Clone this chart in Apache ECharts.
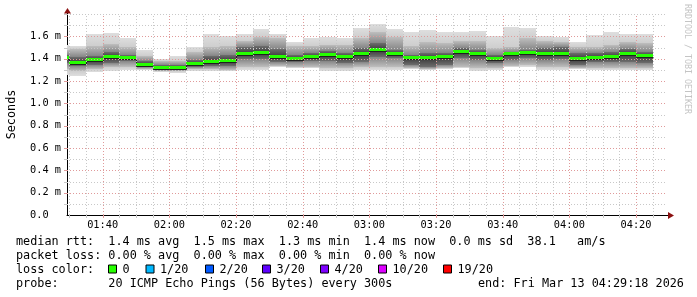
<!DOCTYPE html>
<html><head><meta charset="utf-8">
<script src="https://cdn.jsdelivr.net/npm/echarts@6/dist/echarts.min.js"></script>
<style>html,body{margin:0;padding:0;background:#fff}#c{width:697px;height:297px}</style>
</head><body><div id="c"></div>
<script>
// 5-minute bins (end time of each bin), 20 pings per bin
const binEnd = ['01:30','01:35','01:40','01:45','01:50','01:55','02:00','02:05','02:10','02:15','02:20','02:25',
  '02:30','02:35','02:40','02:45','02:50','02:55','03:00','03:05','03:10','03:15','03:20','03:25',
  '03:30','03:35','03:40','03:45','03:50','03:55','04:00','04:05','04:10','04:15','04:20','04:25'];
// smoke band edges (ms): max ping, outer band edge, core edge, median, core edge, outer band edge, min ping
const hi = [1.520,1.517,1.622,1.631,1.589,1.478,1.400,1.423,1.502,1.622,1.604,1.622,1.664,1.622,1.553,1.583,1.592,1.583,
  1.678,1.711,1.667,1.637,1.658,1.637,1.637,1.649,1.604,1.682,1.678,1.607,1.598,1.553,1.616,1.643,1.625,1.625];
const hiMid = [1.480,1.487,1.517,1.532,1.508,1.427,1.377,1.383,1.458,1.508,1.517,1.562,1.592,1.586,1.517,1.517,1.526,1.523,
  1.583,1.643,1.598,1.514,1.553,1.539,1.562,1.562,1.494,1.508,1.583,1.562,1.553,1.508,1.508,1.523,1.553,1.544];
const hiCore = [1.430,1.416,1.427,1.458,1.436,1.383,1.347,1.347,1.389,1.427,1.436,1.503,1.517,1.487,1.436,1.449,1.467,1.449,
  1.494,1.539,1.478,1.434,1.449,1.449,1.494,1.478,1.434,1.463,1.478,1.494,1.508,1.449,1.449,1.463,1.485,1.463];
const median = [1.404,1.365,1.389,1.419,1.404,1.344,1.314,1.320,1.353,1.374,1.380,1.443,1.449,1.419,1.395,1.413,1.434,1.416,
  1.440,1.478,1.445,1.404,1.404,1.413,1.458,1.445,1.400,1.440,1.449,1.440,1.440,1.395,1.410,1.419,1.440,1.425];
const loCore = [1.360,1.335,1.344,1.362,1.377,1.326,1.302,1.302,1.329,1.338,1.338,1.398,1.398,1.368,1.368,1.377,1.377,1.359,
  1.374,1.418,1.404,1.344,1.329,1.344,1.404,1.389,1.365,1.389,1.404,1.389,1.395,1.344,1.374,1.374,1.374,1.365];
const loMid = [1.310,1.293,1.308,1.323,1.323,1.311,1.290,1.290,1.308,1.308,1.302,1.329,1.329,1.338,1.326,1.326,1.317,1.314,
  1.329,1.329,1.329,1.314,1.305,1.314,1.329,1.314,1.314,1.338,1.344,1.329,1.329,1.314,1.314,1.314,1.314,1.314];
const lo = [1.250,1.248,1.281,1.293,1.299,1.302,1.279,1.275,1.293,1.293,1.288,1.299,1.302,1.329,1.314,1.314,1.293,1.293,
  1.299,1.299,1.299,1.305,1.299,1.305,1.314,1.293,1.299,1.323,1.329,1.299,1.299,1.303,1.299,1.299,1.299,1.299];

const xTickLabels = ['01:40','02:00','02:20','02:40','03:00','03:20','03:40','04:00','04:20'];
const xMinorGrid = ['01:30','01:35','01:45','01:50','01:55','02:05','02:10','02:15','02:25','02:30','02:35','02:45','02:50','02:55',
  '03:05','03:10','03:15','03:25','03:30','03:35','03:45','03:50','03:55','04:05','04:10','04:15','04:25'];
const yTicks = [0.2,0.4,0.6,0.8,1.0,1.2,1.4,1.6];
const yMinorGrid = [0.1,0.3,0.5,0.7,0.9,1.1,1.3,1.5,1.7,1.8];
const timeRange = ['01:29:18','04:29:18'];
const binMinutes = 5;

const lossLabels = ['0','1/20','2/20','3/20','4/20','10/20','19/20'];
const lossColors = ['#26ff00','#00b8ff','#0059ff','#5e00ff','#7e00ff','#dd00ff','#ff0000'];
const legendLines = [
  'median rtt:  1.4 ms avg  1.5 ms max  1.3 ms min  1.4 ms now  0.0 ms sd  38.1   am/s',
  'packet loss: 0.00 % avg  0.00 % max  0.00 % min  0.00 % now',
  'loss color:',
  'probe:       20 ICMP Echo Pings (56 Bytes) every 300s'
];
const endLabel = 'end: Fri Mar 13 04:29:18 2026';

function toMin(s){ const p = s.split(':').map(Number); return p[0]*60 + p[1] + (p[2]||0)/60; }
function fmt(v){ const h = Math.floor(v/60), m = Math.round(v - h*60); return String(h).padStart(2,'0')+':'+String(m).padStart(2,'0'); }

const MONO = '"DejaVu Sans Mono", monospace';
const G = echarts.graphic;
const smokeFills = [
  new G.LinearGradient(0,0,0,1,[{offset:0,color:'#cecece'},{offset:1,color:'#dedede'}]),
  new G.LinearGradient(0,0,0,1,[{offset:0,color:'#858585'},{offset:1,color:'#bebebe'}]),
  new G.LinearGradient(0,0,0,1,[{offset:0,color:'#383838'},{offset:1,color:'#6e6e6e'}]),
  new G.LinearGradient(0,0,0,1,[{offset:0,color:'#6e6e6e'},{offset:1,color:'#383838'}]),
  new G.LinearGradient(0,0,0,1,[{offset:0,color:'#bebebe'},{offset:1,color:'#858585'}]),
  new G.LinearGradient(0,0,0,1,[{offset:0,color:'#dedede'},{offset:1,color:'#cecece'}])
];

const smokeData = binEnd.map((e,i)=>{ const t = toMin(e); return [t-binMinutes, t, lo[i], loMid[i], loCore[i], median[i], hiCore[i], hiMid[i], hi[i]]; });
const medData = binEnd.map((e,i)=>{ const t = toMin(e); return [t-binMinutes, t, median[i], i>0 ? median[i-1] : median[i]]; });

function csRect(params){ const c = params.coordSys; return {x:c.x, y:c.y, width:c.width, height:c.height}; }

function smokeItem(params, api){
  const x0 = Math.round(api.coord([api.value(0),0])[0]);
  const x1 = Math.round(api.coord([api.value(1),0])[0]);
  const ys = [2,3,4,5,6,7,8].map(k=>Math.round(api.coord([api.value(0), api.value(k)])[1]));
  const children = [];
  for (let b=0;b<6;b++){
    const yTop = ys[b+1], yBot = ys[b];
    if (yBot <= yTop) continue;
    const r = G.clipRectByRect({x:x0, y:yTop, width:x1-x0, height:yBot-yTop}, csRect(params));
    if (!r) continue;
    children.push({type:'rect', shape:r, style:{fill:smokeFills[b]}});
  }
  return {type:'group', children};
}

function medItem(params, api){
  const x0 = Math.round(api.coord([api.value(0),0])[0]);
  const x1 = Math.round(api.coord([api.value(1),0])[0]);
  const y = Math.round(api.coord([api.value(0), api.value(2)])[1]);
  const yp = Math.round(api.coord([api.value(0), api.value(3)])[1]);
  const children = [];
  const pts = [];
  if (params.dataIndex > 0) pts.push([x0+0.5, yp+1.5]);
  pts.push([x0+0.5, y+1.5]); pts.push([x1+0.5, y+1.5]);
  children.push({type:'polyline', shape:{points:pts}, style:{stroke:'#202020', lineWidth:1, fill:null}});
  const r = G.clipRectByRect({x:x0, y:y-2, width:x1-x0, height:3}, csRect(params));
  if (r) children.push({type:'rect', shape:r, style:{fill:'#26ff00'}});
  return {type:'group', children};
}

function vGrid(values, color){
  return {type:'custom', coordinateSystem:'cartesian2d', z:5, silent:true, clip:false,
    data: values.map(v=>[v]), encode:{x:0},
    renderItem(params, api){
      const x = Math.round(api.coord([api.value(0), 0])[0]) + 0.5;
      const c = params.coordSys;
      return {type:'group', children:[
        {type:'line', shape:{x1:x, y1:c.y + c.height, x2:x, y2:c.y}, style:{stroke:color, lineWidth:1, lineDash:[1,2]}},
        {type:'line', shape:{x1:x, y1:c.y + c.height, x2:x, y2:c.y + c.height + 3}, style:{stroke:color, lineWidth:1}}
      ]};
    }};
}
function hGrid(values, color){
  return {type:'custom', coordinateSystem:'cartesian2d', z:5, silent:true, clip:false,
    data: values.map(v=>[v]), encode:{y:0},
    renderItem(params, api){
      const c = params.coordSys;
      const y = Math.round(api.coord([toMin(timeRange[0]), api.value(0)])[1]) + 0.5;
      return {type:'group', children:[
        {type:'line', shape:{x1:c.x, y1:y, x2:c.x + c.width, y2:y}, style:{stroke:color, lineWidth:1, lineDash:[1,2]}},
        {type:'line', shape:{x1:c.x - 3, y1:y, x2:c.x, y2:y}, style:{stroke:color, lineWidth:1}}
      ]};
    }};
}

const MAJ = '#e09a9a', MIN = '#c8c8c8';

const graphics = [];
const lineY = [241.5, 255.5, 269.5, 283.5];
legendLines.forEach((t,i)=>graphics.push({type:'text', x:16, y:lineY[i], style:{text:t, font:'11.8px '+MONO, fill:'#000', verticalAlign:'middle'}}));
graphics.push({type:'text', x:478, y:lineY[3], style:{text:endLabel, font:'11.8px '+MONO, fill:'#000', verticalAlign:'middle'}});
const boxX = [108,145.5,205,262,320,378,443];
lossLabels.forEach((l,i)=>{
  graphics.push({type:'rect', shape:{x:boxX[i]+0.5, y:lineY[2]-4.5, width:8, height:8}, style:{fill:lossColors[i], stroke:'#000', lineWidth:1}});
  graphics.push({type:'text', x:boxX[i]+14.5, y:lineY[2], style:{text:l, font:'11.8px '+MONO, fill:'#000', verticalAlign:'middle'}});
});
graphics.push({type:'text', x:687, y:4, rotation:-Math.PI/2, style:{text:'RRDTOOL / TOBI OETIKER', font:'8.3px '+MONO, fill:'#c4c4c4', verticalAlign:'middle', align:'left'}});
// axis extensions and arrows
graphics.push({type:'line', shape:{x1:667, y1:215.5, x2:670, y2:215.5}, style:{stroke:'#000', lineWidth:1}});
graphics.push({type:'line', shape:{x1:67.5, y1:14, x2:67.5, y2:11}, style:{stroke:'#000', lineWidth:1}});
graphics.push({type:'polygon', shape:{points:[[668,212],[674,215.5],[668,219]]}, style:{fill:'#8b1010'}});
graphics.push({type:'polygon', shape:{points:[[64,13.5],[67.5,8],[71,13.5]]}, style:{fill:'#8b1010'}});

const chart = echarts.init(document.getElementById('c'), null, {renderer:'canvas'});
chart.setOption({
  animation:false,
  backgroundColor:'#ffffff',
  grid:{left:67, right:30, top:14, bottom:82, containLabel:false, outerBoundsMode:'none'},
  xAxis:{type:'value', min:toMin(timeRange[0]), max:toMin(timeRange[1]),
    axisLine:{show:true, onZero:false, lineStyle:{color:'#000', width:1}},
    axisTick:{show:false},
    splitLine:{show:false},
    axisLabel:{customValues:xTickLabels.map(toMin), formatter:v=>fmt(v), margin:5, color:'#000', fontFamily:'DejaVu Sans Mono', fontSize:10.3, hideOverlap:false}
  },
  yAxis:{type:'value', min:0, max:1.8, interval:0.2,
    name:'Seconds', nameLocation:'middle', nameGap:49, nameRotate:90,
    nameTextStyle:{fontFamily:'DejaVu Sans Mono', fontSize:11.8, color:'#000'},
    axisLine:{show:true, lineStyle:{color:'#000', width:1}},
    axisTick:{show:false},
    splitLine:{show:false},
    axisLabel:{margin:6, color:'#000', fontFamily:'DejaVu Sans Mono', fontSize:10.3,
      formatter:v=> v===0 ? '{z|0.0}' : (v>1.7 ? '' : v.toFixed(1)+' m'),
      rich:{z:{fontFamily:'DejaVu Sans Mono', fontSize:10.3, color:'#000', padding:[0,12.4,0,0]}}}
  },
  graphic: graphics,
  series:[
    {type:'custom', name:'smoke', coordinateSystem:'cartesian2d', z:2, clip:true, silent:true,
      data:smokeData, encode:{x:[0,1], y:[2,3,4,5,6,7,8]}, renderItem:smokeItem},
    {type:'custom', name:'median', coordinateSystem:'cartesian2d', z:3, clip:true, silent:true,
      data:medData, encode:{x:[0,1], y:[2,3]}, renderItem:medItem},
    vGrid(xMinorGrid.map(toMin), MIN),
    hGrid(yMinorGrid, MIN),
    vGrid(xTickLabels.map(toMin), MAJ),
    hGrid(yTicks, MAJ)
  ]
});
</script></body></html>
